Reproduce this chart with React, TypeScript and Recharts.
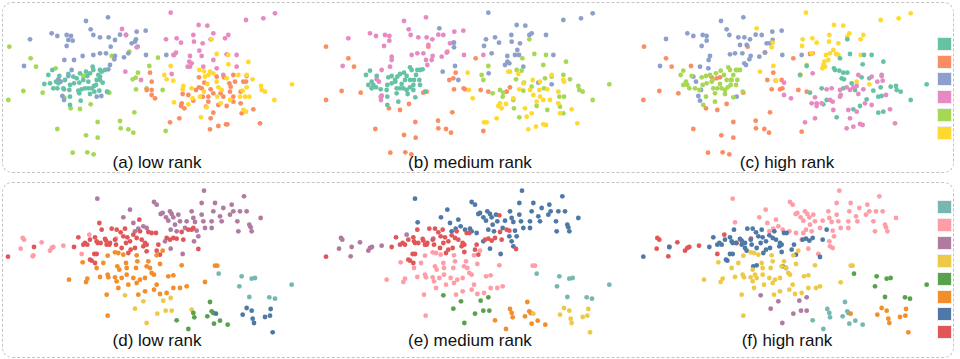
import { ScatterChart, Scatter, XAxis, YAxis } from 'recharts';

// point positions are embedding coordinates (3x units)
type P = [number, number];

const SET2 = ['#66c2a5', '#fc8d62', '#8da0cb', '#e78ac3', '#a6d854', '#ffd92f'];
const TAB = ['#76b7b2', '#ff9da7', '#b07aa1', '#edc948', '#59a14f', '#f28e2b', '#4e79a7', '#e15759'];

const panelLabels = ['(a) low rank', '(b) medium rank', '(c) high rank', '(d) low rank', '(e) medium rank', '(f) high rank'];

// ---- (a) low rank
const aGreen: P[] = [[28,140],[92,175],[108,200],[70,273],[25,300],[128,278],[172,387],[258,406],[293,413],[218,458],[262,457],[281,463],[293,366],[360,363],[362,385],[385,388],[400,398],[403,337],[408,268],[414,218],[440,265],[448,198],[474,173],[488,270],[497,393],[523,165],[335,168],[328,278],[388,155],[398,238],[407,233],[167,205],[212,325],[240,327],[272,313],[193,293],[250,228]];
const aBlue: P[] = [[324,52],[258,63],[272,88],[155,100],[172,108],[200,105],[213,108],[205,120],[200,138],[218,122],[90,118],[280,105],[300,112],[326,112],[345,120],[360,104],[378,105],[410,95],[437,92],[395,130],[405,125],[408,118],[332,140],[300,160],[318,160],[280,165],[345,168],[343,178],[372,172],[385,160],[438,165],[499,165],[248,168],[222,180],[193,180],[72,198],[330,195],[325,208],[215,210],[175,238],[182,245],[192,268],[187,288],[192,300],[290,290],[304,288],[321,275],[205,228],[413,140]];
const aTeal: P[] = [[157,210],[145,225],[150,250],[168,245],[178,228],[175,250],[172,265],[190,265],[208,270],[210,255],[220,230],[230,235],[240,220],[258,215],[262,228],[270,220],[278,200],[280,210],[300,210],[305,215],[315,210],[295,225],[290,240],[300,240],[288,255],[308,248],[282,258],[275,265],[265,265],[255,265],[245,268],[235,272],[238,248],[222,250],[210,290],[238,280],[210,315],[242,302],[270,282],[298,272],[322,276],[133,252],[160,265],[250,240],[265,245],[283,275],[300,230],[195,240],[205,222]];
const aPink: P[] = [[512,38],[738,60],[790,55],[825,40],[596,75],[622,77],[366,87],[378,105],[410,142],[498,118],[530,115],[543,128],[580,105],[582,125],[608,130],[640,100],[632,118],[685,105],[675,115],[528,158],[520,165],[598,152],[570,168],[568,185],[575,190],[563,200],[605,168],[680,163],[710,165],[710,200],[670,225],[650,205],[610,200],[640,180],[376,215],[423,240],[515,222],[570,200]];
const aOrange: P[] = [[450,218],[455,245],[440,270],[455,270],[455,285],[465,295],[548,282],[545,310],[543,318],[553,325],[538,355],[510,367],[580,302],[597,262],[605,265],[613,248],[632,268],[640,280],[662,280],[688,250],[692,260],[690,275],[700,225],[705,245],[730,245],[740,228],[738,245],[722,275],[700,305],[680,318],[655,315],[625,305],[618,320],[640,338],[632,355],[630,388],[655,378],[678,373],[682,373],[722,310],[725,340],[760,328],[780,370],[588,270],[597,232],[625,290],[670,290],[700,290],[650,230],[672,232],[608,290],[565,285]];
const aYellow: P[] = [[635,118],[650,162],[685,165],[685,193],[745,186],[512,198],[493,225],[500,238],[520,242],[550,258],[548,268],[575,265],[598,210],[612,214],[630,215],[615,230],[625,225],[640,220],[622,252],[650,245],[655,262],[665,270],[680,235],[715,225],[740,225],[758,238],[783,258],[795,275],[785,270],[740,262],[728,272],[720,290],[735,290],[748,290],[823,300],[876,253],[690,300],[662,310],[620,322],[603,352],[565,313],[522,307],[578,295],[600,290],[652,290],[730,330],[738,335],[612,275]];

// ---- (b) medium rank
const bOrange: P[] = [[48,140],[115,175],[132,200],[95,273],[48,300],[152,278],[196,387],[282,405],[317,413],[241,458],[286,457],[304,463],[316,366],[384,362],[385,385],[408,387],[423,398],[427,337],[432,268],[437,218],[461,265],[465,268],[497,175],[520,393],[355,140],[412,155],[418,240],[430,235],[512,270],[535,275],[237,325],[270,330],[297,312],[215,287],[340,278],[350,275],[600,262],[590,275]];
const bPink: P[] = [[348,52],[282,63],[296,88],[180,100],[115,115],[198,108],[225,105],[238,108],[238,122],[222,138],[302,105],[325,112],[350,112],[367,118],[385,104],[400,105],[433,95],[460,92],[420,130],[430,128],[355,135],[322,160],[305,165],[340,160],[368,168],[365,180],[395,170],[410,158],[462,165],[520,165],[245,170],[245,180],[240,200],[98,198],[352,195],[215,210],[200,238],[207,245],[215,288],[213,300],[212,290],[348,180]];
const bBlue: P[] = [[535,38],[760,60],[813,55],[848,40],[620,75],[646,77],[388,85],[432,128],[432,142],[528,118],[555,112],[567,128],[604,105],[605,125],[630,130],[665,100],[658,105],[708,105],[522,138],[545,160],[622,150],[592,168],[592,185],[598,190],[585,195],[615,165],[627,165],[730,165],[398,215],[445,240],[435,198],[536,220],[685,248],[725,253],[640,200]];
const bGreen: P[] = [[658,118],[673,162],[708,165],[768,185],[535,198],[515,225],[520,240],[637,175],[620,210],[635,212],[618,238],[642,248],[700,195],[705,235],[725,230],[760,225],[780,238],[805,258],[818,275],[808,270],[762,290],[748,290],[898,253],[848,300],[570,270],[548,280],[578,290],[610,300],[640,272],[665,260],[680,318],[712,330],[750,320],[760,340],[612,325],[628,352],[702,265],[580,278]];
const bYellow: P[] = [[473,218],[477,270],[488,295],[522,367],[570,310],[565,318],[575,325],[560,355],[530,367],[600,215],[610,295],[628,268],[660,270],[668,240],[690,245],[688,270],[712,268],[725,225],[760,240],[762,245],[745,275],[700,300],[680,305],[665,340],[650,350],[655,388],[678,380],[700,373],[708,375],[745,310],[750,340],[785,328],[802,370],[588,312],[645,325],[670,285],[690,290],[720,300],[595,215],[625,222],[640,250]];
const bTeal: P[] = [[180,212],[168,225],[175,255],[190,255],[185,245],[200,228],[198,262],[212,268],[230,270],[232,255],[235,232],[245,228],[255,240],[262,230],[270,222],[282,218],[290,228],[300,202],[305,210],[322,210],[330,210],[338,208],[318,225],[312,240],[328,240],[310,255],[330,255],[300,262],[290,270],[280,265],[270,265],[260,265],[256,245],[245,250],[232,290],[260,280],[232,315],[265,305],[293,282],[316,292],[345,275],[185,265],[300,240],[285,240],[275,252],[310,270]];

// ---- (c) high rank
const cOrange: P[] = [[42,140],[108,175],[125,200],[88,273],[40,300],[145,280],[190,387],[274,406],[310,413],[234,458],[278,457],[298,463],[310,366],[377,362],[378,385],[403,387],[417,398],[420,337],[425,268],[430,218],[455,240],[437,242],[490,175],[515,395],[353,140],[405,157],[412,240],[457,265],[450,268],[505,270],[530,275],[228,325],[262,330],[290,312],[183,198],[245,232],[260,235],[270,232],[340,278],[540,162],[548,160]];
const cBlue: P[] = [[340,52],[273,63],[290,88],[172,100],[108,117],[190,108],[218,105],[230,108],[230,122],[215,138],[298,105],[325,112],[343,112],[360,118],[377,104],[395,105],[427,95],[455,92],[410,130],[420,130],[350,135],[330,135],[300,163],[315,160],[337,160],[362,168],[358,178],[388,170],[405,158],[457,165],[515,165],[240,168],[236,180],[235,205],[90,198],[348,195],[210,200],[190,230],[198,245],[213,270],[205,288],[210,302],[320,290],[343,190],[428,120]];
const cYellow: P[] = [[528,38],[752,60],[806,55],[842,40],[612,75],[640,77],[380,85],[428,128],[425,142],[518,118],[547,115],[560,128],[598,105],[597,125],[625,130],[658,100],[652,110],[700,105],[692,118],[516,138],[530,195],[545,160],[610,150],[588,165],[583,185],[580,195],[577,205],[618,162],[625,165],[692,165],[390,215],[430,198],[438,242],[512,225],[718,253],[680,245],[600,160],[585,200],[595,180]];
const cGreen: P[] = [[160,212],[152,225],[160,255],[172,255],[168,245],[185,228],[178,265],[195,265],[208,270],[218,255],[215,232],[228,228],[240,225],[248,240],[258,220],[272,212],[282,225],[295,202],[300,210],[318,210],[322,210],[330,210],[310,225],[303,240],[322,240],[302,255],[318,255],[293,262],[285,270],[275,265],[262,265],[250,265],[245,245],[230,250],[228,290],[255,280],[220,315],[255,305],[285,282],[310,292],[338,275],[305,240],[290,240],[270,252]];
const cTeal: P[] = [[652,118],[660,162],[630,175],[702,165],[725,165],[760,185],[698,193],[530,198],[510,225],[615,210],[628,212],[640,218],[652,218],[635,235],[642,238],[665,250],[675,270],[640,265],[695,232],[718,235],[755,225],[782,260],[798,258],[800,270],[812,275],[752,262],[730,272],[745,290],[755,288],[710,298],[760,335],[745,338],[690,318],[670,328],[620,352],[580,313],[540,278],[575,265],[890,253],[842,300],[590,300],[612,205]];
const cPink: P[] = [[462,248],[462,285],[483,295],[555,292],[575,310],[560,310],[560,318],[555,355],[525,367],[548,220],[590,268],[605,265],[600,300],[610,330],[608,305],[630,270],[630,290],[650,262],[660,270],[670,262],[680,258],[685,225],[685,282],[700,268],[705,310],[725,315],[725,230],[755,228],[758,242],[742,245],[768,285],[780,328],[795,370],[690,372],[698,375],[650,385],[670,380],[660,355],[680,335],[655,330],[632,285],[545,310]];

// ---- (d) low rank
const dPink: P[] = [[68,180],[72,185],[62,212],[98,235],[100,232],[125,193],[150,218],[155,210],[160,207],[190,203],[245,228],[268,170],[348,182]];
const dRed: P[] = [[24,236],[102,207],[222,207],[235,178],[250,200],[255,195],[262,200],[270,185],[285,178],[290,190],[298,135],[305,155],[293,195],[302,195],[315,183],[320,200],[330,195],[335,152],[350,155],[345,185],[362,163],[375,152],[370,175],[382,178],[378,195],[390,190],[392,215],[385,225],[400,170],[405,210],[410,180],[418,125],[420,160],[425,185],[430,205],[435,195],[440,200],[440,220],[445,162],[455,165],[468,165],[475,200],[480,230],[470,218],[500,180],[510,185],[520,180],[530,182],[545,162],[550,185],[565,155],[575,155],[580,150],[595,213],[270,245],[275,248],[283,228],[290,228],[285,255],[328,200],[318,188],[348,200],[365,210]];
const dPurple: P[] = [[292,62],[390,95],[370,118],[400,135],[405,160],[415,152],[430,145],[462,72],[470,80],[482,108],[488,105],[498,118],[505,128],[510,100],[515,108],[520,118],[525,140],[512,155],[535,110],[540,130],[555,150],[530,160],[560,130],[575,100],[580,120],[585,132],[590,158],[595,175],[605,75],[605,110],[610,130],[615,150],[635,130],[635,150],[645,75],[640,100],[660,115],[665,130],[670,90],[690,110],[695,80],[700,100],[712,130],[715,160],[720,100],[732,55],[740,100],[748,140],[755,160],[752,148],[782,120],[612,38],[495,190],[512,212],[548,228],[582,190],[440,150]];
const dOrange: P[] = [[248,253],[262,302],[258,312],[207,305],[290,270],[300,297],[310,255],[323,233],[323,290],[325,298],[345,223],[355,225],[370,230],[378,255],[380,270],[410,232],[412,250],[408,270],[352,265],[358,275],[345,298],[350,310],[365,300],[380,290],[400,300],[410,315],[420,305],[435,300],[440,265],[445,250],[450,270],[455,285],[462,290],[470,232],[480,258],[488,218],[505,295],[520,292],[545,262],[540,330],[500,345],[480,348],[462,335],[435,340],[415,350],[385,320],[355,330],[320,350],[323,413],[470,320],[520,330],[615,312],[645,263],[652,263],[560,325]];
const dYellow: P[] = [[375,352],[430,370],[405,392],[440,435],[472,407],[497,398],[515,398],[512,360],[490,368],[575,395]];
const dGreen: P[] = [[530,427],[565,453],[580,405],[583,418],[630,372],[635,400],[622,415],[640,405],[642,437],[660,428],[683,440]];
const dTeal: P[] = [[656,287],[718,325],[725,295],[755,302],[765,300],[748,357],[808,358],[825,362],[875,320]];
const dBlue: P[] = [[648,407],[740,390],[755,398],[728,410],[758,422],[762,435],[795,417],[810,413],[812,393],[818,463]];

// ---- (e) medium rank
const ePurple: P[] = [[93,180],[97,185],[87,212],[122,235],[125,207],[150,193],[175,218],[180,210],[186,207],[215,203],[290,170],[370,182]];
const eRed: P[] = [[48,236],[245,207],[258,178],[270,200],[278,195],[285,200],[295,185],[310,178],[312,190],[322,155],[315,195],[325,195],[338,183],[345,200],[352,195],[358,152],[375,152],[368,185],[385,163],[398,155],[392,175],[405,178],[400,195],[415,190],[415,215],[408,225],[425,172],[428,210],[435,180],[440,160],[445,185],[455,205],[458,195],[463,200],[463,222],[470,165],[478,165],[500,200],[505,230],[495,215],[525,185],[535,182],[545,188],[555,180],[570,162],[575,185],[590,155],[598,158],[568,112],[618,213],[295,245],[300,248],[308,228],[315,228],[310,255],[350,200],[340,188],[372,200],[390,210]];
const eBlue: P[] = [[315,62],[412,95],[393,118],[323,133],[420,135],[425,160],[437,152],[445,125],[452,145],[485,72],[495,80],[505,108],[510,105],[520,118],[528,128],[532,100],[540,108],[545,118],[548,140],[535,155],[558,110],[562,130],[578,150],[552,160],[585,128],[600,100],[605,120],[610,132],[615,158],[620,175],[628,75],[628,110],[633,130],[640,150],[660,130],[660,150],[670,75],[665,100],[685,115],[690,130],[695,90],[715,110],[718,80],[722,100],[738,130],[740,160],[745,100],[757,55],[765,100],[772,140],[778,160],[775,148],[805,120],[636,38],[520,190],[540,212],[572,228],[605,190],[465,155],[485,160],[500,165],[610,205],[598,175],[480,152]];
const ePink: P[] = [[272,253],[285,302],[280,312],[230,305],[312,270],[322,297],[333,255],[345,233],[345,290],[348,298],[368,223],[378,225],[392,230],[400,255],[402,270],[432,232],[435,250],[430,270],[375,265],[380,275],[368,298],[372,310],[388,300],[402,290],[422,300],[432,315],[442,305],[458,300],[462,265],[468,250],[472,270],[478,285],[485,290],[492,232],[502,258],[510,218],[528,295],[542,292],[568,262],[562,330],[522,345],[502,348],[485,335],[458,340],[438,350],[408,320],[378,330],[342,350],[347,413],[492,320],[542,330],[578,325],[668,263],[675,263]];
const eGreen: P[] = [[400,352],[453,370],[430,392],[463,435],[495,407],[520,398],[538,398],[535,358],[512,368]];
const eOrange: P[] = [[555,427],[588,453],[600,393],[605,405],[608,418],[652,372],[658,400],[645,415],[662,405],[665,437],[683,428],[706,440]];
const eTeal: P[] = [[680,287],[741,325],[748,295],[778,302],[788,300],[772,357],[830,358],[846,362],[898,320]];
const eYellow: P[] = [[670,407],[762,390],[778,398],[750,410],[782,422],[785,435],[818,417],[832,413],[835,393],[840,463]];

// ---- (f) high rank
const fRed: P[] = [[82,180],[88,185],[80,212],[115,235],[118,207],[142,193],[165,218],[172,210],[178,207],[207,203],[262,228],[283,170],[320,195],[363,182]];
const fBlue: P[] = [[40,236],[118,207],[238,207],[250,178],[262,200],[268,195],[275,200],[285,185],[300,178],[305,190],[312,155],[308,195],[318,195],[330,183],[335,200],[345,195],[352,152],[368,152],[362,185],[378,163],[395,155],[385,175],[398,178],[392,195],[408,190],[408,215],[400,225],[418,172],[420,210],[428,180],[433,160],[438,185],[448,205],[450,195],[455,200],[455,222],[462,165],[470,165],[492,200],[498,230],[485,215],[518,185],[528,182],[538,188],[548,180],[578,185],[590,155],[570,237],[288,245],[292,248],[300,228],[308,228],[370,265],[380,262],[458,265],[468,270],[345,210],[335,188],[365,200],[380,210],[350,218]];
const fPink: P[] = [[308,62],[407,95],[388,118],[315,133],[412,135],[418,160],[430,152],[438,125],[445,145],[480,72],[488,80],[497,108],[502,105],[512,118],[520,128],[525,100],[532,108],[538,118],[540,140],[528,155],[550,110],[555,130],[570,150],[545,160],[578,128],[595,100],[598,120],[605,132],[608,158],[612,175],[620,75],[620,110],[625,130],[632,150],[655,130],[655,150],[662,75],[658,100],[678,115],[682,130],[688,90],[708,110],[712,80],[718,100],[730,130],[735,160],[738,100],[748,55],[758,100],[765,140],[772,160],[768,148],[798,120],[628,38],[515,185],[535,212],[565,228],[598,190],[600,205],[608,210],[458,155],[478,160],[498,165],[520,165]];
const fYellow: P[] = [[265,253],[278,302],[272,312],[222,305],[305,270],[315,297],[325,255],[340,233],[338,290],[342,298],[362,223],[372,225],[385,230],[395,255],[398,270],[425,232],[428,250],[422,270],[368,275],[375,290],[362,298],[368,310],[380,300],[398,290],[418,300],[428,315],[435,305],[450,300],[455,265],[462,250],[468,270],[475,285],[480,290],[490,232],[498,258],[505,218],[522,295],[535,292],[555,262],[558,330],[515,345],[495,348],[478,335],[450,340],[432,350],[402,320],[372,330],[335,350],[340,413],[488,320],[535,330],[570,325],[632,313],[662,263],[668,263]];
const fPurple: P[] = [[392,352],[445,370],[422,392],[457,435],[490,407],[513,398],[530,398],[530,358],[508,368]];
const fTeal: P[] = [[548,427],[580,453],[592,393],[598,405],[600,418],[645,372],[652,400],[638,415],[655,405],[658,437],[676,428],[698,440]];
const fGreen: P[] = [[672,287],[735,325],[740,295],[770,302],[782,300],[765,357],[825,358],[840,362],[890,320]];
const fOrange: P[] = [[662,407],[755,390],[770,398],[742,410],[775,422],[778,435],[810,417],[826,413],[828,393],[835,463]];

type Layer = { pts: P[]; color: string };

const panels: { left: number; top: number; w: number; h: number; layers: Layer[] }[] = [
  { left: 0, top: 0, w: 320, h: 175, layers: [
    { pts: aGreen, color: SET2[4] }, { pts: aBlue, color: SET2[2] }, { pts: aTeal, color: SET2[0] },
    { pts: aPink, color: SET2[3] }, { pts: aOrange, color: SET2[1] }, { pts: aYellow, color: SET2[5] }] },
  { left: 310, top: 0, w: 320, h: 175, layers: [
    { pts: bOrange, color: SET2[1] }, { pts: bPink, color: SET2[3] }, { pts: bBlue, color: SET2[2] },
    { pts: bGreen, color: SET2[4] }, { pts: bYellow, color: SET2[5] }, { pts: bTeal, color: SET2[0] }] },
  { left: 630, top: 0, w: 330, h: 175, layers: [
    { pts: cOrange, color: SET2[1] }, { pts: cBlue, color: SET2[2] }, { pts: cYellow, color: SET2[5] },
    { pts: cGreen, color: SET2[4] }, { pts: cTeal, color: SET2[0] }, { pts: cPink, color: SET2[3] }] },
  { left: 0, top: 178, w: 320, h: 181, layers: [
    { pts: dPink, color: TAB[1] }, { pts: dPurple, color: TAB[2] }, { pts: dRed, color: TAB[7] },
    { pts: dOrange, color: TAB[5] }, { pts: dYellow, color: TAB[3] }, { pts: dGreen, color: TAB[4] },
    { pts: dTeal, color: TAB[0] }, { pts: dBlue, color: TAB[6] }] },
  { left: 310, top: 178, w: 320, h: 181, layers: [
    { pts: ePurple, color: TAB[2] }, { pts: eBlue, color: TAB[6] }, { pts: eRed, color: TAB[7] },
    { pts: ePink, color: TAB[1] }, { pts: eGreen, color: TAB[4] }, { pts: eOrange, color: TAB[5] },
    { pts: eTeal, color: TAB[0] }, { pts: eYellow, color: TAB[3] }] },
  { left: 630, top: 178, w: 330, h: 181, layers: [
    { pts: fRed, color: TAB[7] }, { pts: fPink, color: TAB[1] }, { pts: fBlue, color: TAB[6] },
    { pts: fYellow, color: TAB[3] }, { pts: fPurple, color: TAB[2] }, { pts: fTeal, color: TAB[0] },
    { pts: fGreen, color: TAB[4] }, { pts: fOrange, color: TAB[5] }] },
];

const Dot = (props: any) => <circle cx={props.cx} cy={props.cy} r={2.4} fill={props.fill} />;

const labelPos = [
  { x: 157, y: 153 }, { x: 470, y: 153 }, { x: 787, y: 153 },
  { x: 157, y: 331 }, { x: 470, y: 331 }, { x: 787, y: 331 },
];

const boxStyle = (top: number, height: number): React.CSSProperties => ({
  position: 'absolute', left: 2, top, width: 952, height,
  border: '1px dashed #c4c4c4', borderRadius: 10, boxSizing: 'border-box',
});

const swatch = (x: number, y: number, color: string, key: string) => (
  <div key={key} style={{ position: 'absolute', left: x, top: y, width: 15, height: 14, background: color, border: '1px solid #eee', boxSizing: 'border-box' }} />
);

export default function App() {
  return (
    <div style={{ position: 'absolute', left: 0, top: 0, width: 960, height: 359, background: '#fff', fontFamily: '"Liberation Sans", Arial, sans-serif', overflow: 'hidden' }}>
      <div style={boxStyle(2, 171)} />
      <div style={boxStyle(182, 176)} />
      {panels.map((p, i) => (
        <div key={i} style={{ position: 'absolute', left: p.left, top: p.top }}>
          <ScatterChart width={p.w} height={p.h} margin={{ top: 0, right: 0, bottom: 0, left: 0 }}>
            <XAxis type="number" dataKey="x" domain={[0, p.w * 3]} hide />
            <YAxis type="number" dataKey="y" domain={[0, p.h * 3]} reversed hide />
            {p.layers.map((l, j) => (
              <Scatter key={j} data={l.pts.map(([x, y]) => ({ x, y }))} fill={l.color} shape={Dot} isAnimationActive={false} />
            ))}
          </ScatterChart>
        </div>
      ))}
      {panelLabels.map((t, i) => (
        <div key={t + i} style={{ position: 'absolute', left: labelPos[i].x - 100, top: labelPos[i].y, width: 200, textAlign: 'center', fontSize: 17, color: '#111' }}>{t}</div>
      ))}
      {SET2.map((c, i) => swatch(937, 37 + i * 17.7, c, 'a' + i))}
      {TAB.map((c, i) => swatch(937, 200 + i * 17.9, c, 'b' + i))}
    </div>
  );
}
